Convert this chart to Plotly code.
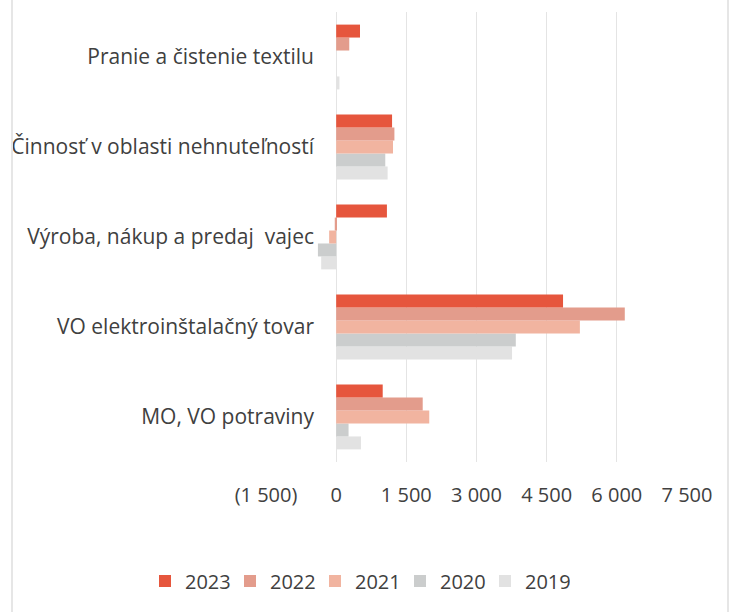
import plotly.graph_objects as go

categories = [
    "MO, VO potraviny",
    "VO elektroinštalačný tovar",
    "Výroba, nákup a predaj  vajec",
    "Činnosť v oblasti nehnuteľností",
    "Pranie a čistenie textilu",
]
years = ["2019", "2020", "2021", "2022", "2023"]
v2019 = [530, 3760, -320, 1100, 70]
v2020 = [265, 3840, -390, 1050, 0]
v2021 = [1990, 5210, -150, 1215, 0]
v2022 = [1850, 6170, -30, 1245, 280]
v2023 = [995, 4850, 1085, 1195, 510]
series = [v2019, v2020, v2021, v2022, v2023]
colors = ["#E2E2E2", "#CBCDCD", "#F1B4A0", "#E39C8C", "#E6563D"]

tick_vals = [-1500, 0, 1500, 3000, 4500, 6000, 7500]
tick_text = ["(1 500)", "0", "1 500", "3 000", "4 500", "6 000", "7 500"]

FONT = "Open Sans"
TXT = "#404040"

fig = go.Figure()
for name, vals, col in zip(years, series, colors):
    fig.add_trace(go.Bar(y=categories, x=vals, name=name, orientation="h",
                         marker=dict(color=col, line=dict(width=0))))

L, R, T, B = 266, 44, 12, 150
W, H = 731, 612
pw = W - L - R
ph = H - T - B

fig.update_layout(
    width=W, height=H,
    margin=dict(l=L, r=R, t=T, b=B, autoexpand=False),
    paper_bgcolor="white", plot_bgcolor="white",
    barmode="group", bargap=0.28, bargroupgap=0,
    font=dict(family=FONT, size=20, color=TXT),
    showlegend=True,
    legend=dict(orientation="h", traceorder="reversed",
                xref="paper", yref="paper",
                x=(145 - L) / pw, xanchor="left",
                y=-(581 - (H - B)) / ph, yanchor="middle",
                entrywidth=40, entrywidthmode="pixels",
                font=dict(size=20, color=TXT), itemwidth=30),
    xaxis=dict(range=[-1500, 7500], tickvals=tick_vals, ticktext=tick_text,
               showgrid=True, gridcolor="#E4E4E4", gridwidth=1,
               zeroline=True, zerolinecolor="#E4E4E4", zerolinewidth=1,
               showline=False, ticks="", ticklabelstandoff=19, automargin=False,
               tickfont=dict(size=20, color=TXT)),
    yaxis=dict(type="category", categoryorder="array", categoryarray=categories,
               anchor="free", position=(336 - L) / pw, automargin=False,
               showgrid=False, zeroline=False, showline=False, ticks="",
               ticklabelstandoff=22, tickfont=dict(size=21, color=TXT)),
    shapes=[
        dict(type="line", xref="paper", yref="paper",
             x0=(12 - L) / pw, x1=(12 - L) / pw, y0=(H - T) / ph + 0.01, y1=-(B) / ph - 0.01,
             line=dict(color="#E6E6E6", width=2)),
        dict(type="line", xref="paper", yref="paper",
             x0=(728 - L) / pw, x1=(728 - L) / pw, y0=(H - T) / ph + 0.01, y1=-(B) / ph - 0.01,
             line=dict(color="#E6E6E6", width=2)),
    ],
)

fig.write_html("out.html", config={"displayModeBar": False},
               post_script="document.body.style.margin='0';")
